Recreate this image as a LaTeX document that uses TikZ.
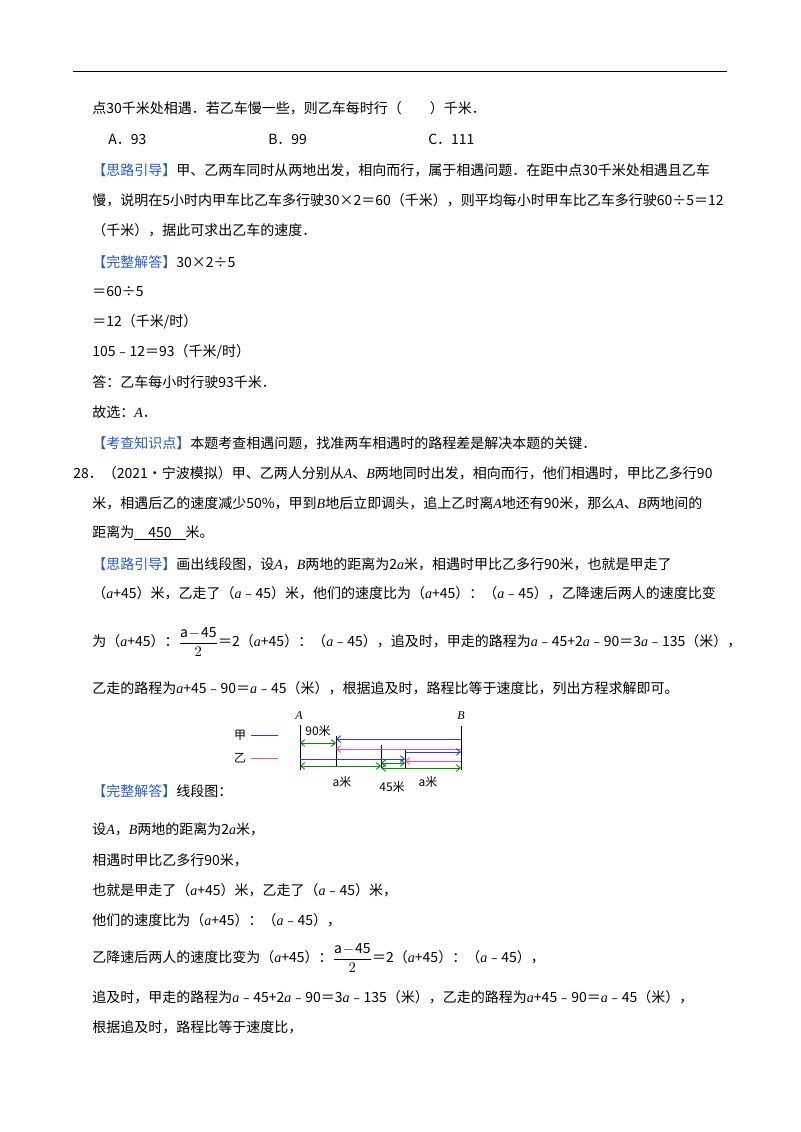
\documentclass[tikz,border=0pt]{standalone}
\usepackage{fontspec}
\setmainfont{Noto Sans CJK SC}
\newfontfamily\lat{Liberation Serif}
\newcommand\I[1]{{\lat\itshape #1}}
\newcommand\fr{$\displaystyle\frac{\mathrm{a\!-\!45}}{2}$}
\usetikzlibrary{arrows.meta}
\definecolor{hb}{RGB}{40,90,200}
\begin{document}
\begin{tikzpicture}[x=0.75pt,y=-0.75pt,
 t/.style={anchor=west,inner sep=0pt,font=\fontsize{10.5pt}{12pt}\selectfont},
 h/.style={text=hb},
 bl/.style={draw=blue!80,line width=0.7pt},
 rd/.style={draw=red!60!magenta!70,line width=0.7pt},
 gr/.style={draw=green!55!black,line width=0.7pt},
 ar/.style={-{Straight Barb[length=3pt,width=5pt]}},
 dar/.style={{Straight Barb[length=3pt,width=5pt]}-{Straight Barb[length=3pt,width=5pt]}},
 lb/.style={inner sep=0pt,font=\fontsize{9pt}{10pt}\selectfont}]
\useasboundingbox (0,0) rectangle (800,1132);
\draw[line width=0.6pt] (73,71) -- (727,71);
\node[t] (l1) at (92,108) {点30千米处相遇．若乙车慢一些，则乙车每时行（\hspace{2em}）千米．};
\node[t] (oa) at (108,139) {A．93};
\node[t] (ob) at (268,139) {B．99};
\node[t] (oc) at (428,139) {C．111};
\node[t] (l3) at (92,170) {\textcolor{hb}{【思路引导】}甲、乙两车同时从两地出发，相向而行，属于相遇问题．在距中点30千米处相遇且乙车};
\node[t] (l4) at (92,200) {慢，说明在5小时内甲车比乙车多行驶30×2＝60（千米），则平均每小时甲车比乙车多行驶60÷5＝12};
\node[t] (l5) at (92,230) {（千米），据此可求出乙车的速度．};
\node[t] (l6) at (92,262) {\textcolor{hb}{【完整解答】}30×2÷5};
\node[t] (l7) at (92,292) {＝60÷5};
\node[t] (l8) at (92,322) {＝12（千米/时）};
\node[t] (l9) at (92,352) {105﹣12＝93（千米/时）};
\node[t] (l10) at (92,382) {答：乙车每小时行驶93千米．};
\node[t] (l11) at (92,412) {故选：\I{A}．};
\node[t] (l12) at (92,443) {\textcolor{hb}{【考查知识点】}本题考查相遇问题，找准两车相遇时的路程差是解决本题的关键．};
\node[t] (l13) at (73,473) {28．（2021•宁波模拟）甲、乙两人分别从\I{A}、\I{B}两地同时出发，相向而行，他们相遇时，甲比乙多行90};
\node[t] (l14) at (92,503) {米，相遇后乙的速度减少50\%，甲到\I{B}地后立即调头，追上乙时离\I{A}地还有90米，那么\I{A}、\I{B}两地间的};
\node[t] (l15) at (92,533) {距离为\underline{\hspace{1em}450\hspace{1em}}米。};
\node[t] (l16) at (92,564) {\textcolor{hb}{【思路引导】}画出线段图，设\I{A}，\I{B}两地的距离为2\I{a}米，相遇时甲比乙多行90米，也就是甲走了};
\node[t] (l17) at (92,593) {（\I{a}+45）米，乙走了（\I{a}﹣45）米，他们的速度比为（\I{a}+45）：（\I{a}﹣45），乙降速后两人的速度比变};
\node[t] (l18) at (92,642) {为（\I{a}+45）：\fr＝2（\I{a}+45）：（\I{a}﹣45），追及时，甲走的路程为\I{a}﹣45+2\I{a}﹣90＝3\I{a}﹣135（米），};
\node[t] (l19) at (92,688) {乙走的路程为\I{a}+45﹣90＝\I{a}﹣45（米），根据追及时，路程比等于速度比，列出方程求解即可。};
\node[t] (l20) at (92,791) {\textcolor{hb}{【完整解答】}线段图：};
\node[t] (l21) at (92,829) {设\I{A}，\I{B}两地的距离为2\I{a}米，};
\node[t] (l22) at (92,860) {相遇时甲比乙多行90米，};
\node[t] (l23) at (92,890) {也就是甲走了（\I{a}+45）米，乙走了（\I{a}﹣45）米，};
\node[t] (l24) at (92,920) {他们的速度比为（\I{a}+45）：（\I{a}﹣45），};
\node[t] (l25) at (92,958) {乙降速后两人的速度比变为（\I{a}+45）：\fr＝2（\I{a}+45）：（\I{a}﹣45），};
\node[t] (l26) at (92,997) {追及时，甲走的路程为\I{a}﹣45+2\I{a}﹣90＝3\I{a}﹣135（米），乙走的路程为\I{a}+45﹣90＝\I{a}﹣45（米），};
\node[t] (l27) at (92,1027) {根据追及时，路程比等于速度比，};
% diagram
\node[lb] (jia) at (240,735) {甲};
\node[lb] (yi) at (240,758) {乙};
\coordinate (j1) at (251,735); \coordinate (j2) at (278,735);
\coordinate (y1) at (251,758); \coordinate (y2) at (278,758);
\draw[bl] (j1) -- (j2);
\draw[rd] (y1) -- (y2);
\node[lb] (A) at (299,716) {\I{A}};
\node[lb] (B) at (461,716) {\I{B}};
\coordinate (At) at (300,725); \coordinate (Ab) at (300,770);
\coordinate (Bt) at (461,726); \coordinate (Bb) at (461,770);
\coordinate (Mt) at (336,736); \coordinate (Mb) at (336,767);
\coordinate (Nt) at (381,745); \coordinate (Nb) at (381,768);
\coordinate (Pt) at (405,750); \coordinate (Pb) at (405,768);
\draw[line width=0.6pt] (At) -- (Ab) (Bt) -- (Bb) (Mt) -- (Mb) (Nt) -- (Nb) (Pt) -- (Pb);
\node[lb] (n90) at (318,731) {90米};
\draw[gr,dar] (300,743) -- (336,743);
\draw[bl,ar] (461,739) -- (336,739);
\draw[rd,ar] (461,749) -- (336,749);
\draw[bl,ar] (405,752) -- (461,752);
\draw[bl,ar] (300,759) -- (405,759);
\draw[rd,ar] (461,761) -- (405,761);
\draw[gr,dar] (300,766) -- (381,766);
\draw[gr,dar] (381,763) -- (405,763);
\draw[gr,dar] (381,768) -- (461,768);
\node[lb] (la1) at (342,782) {a米};
\node[lb] (l45) at (392,787) {45米};
\node[lb] (la2) at (428,782) {a米};
\end{tikzpicture}
\end{document}
